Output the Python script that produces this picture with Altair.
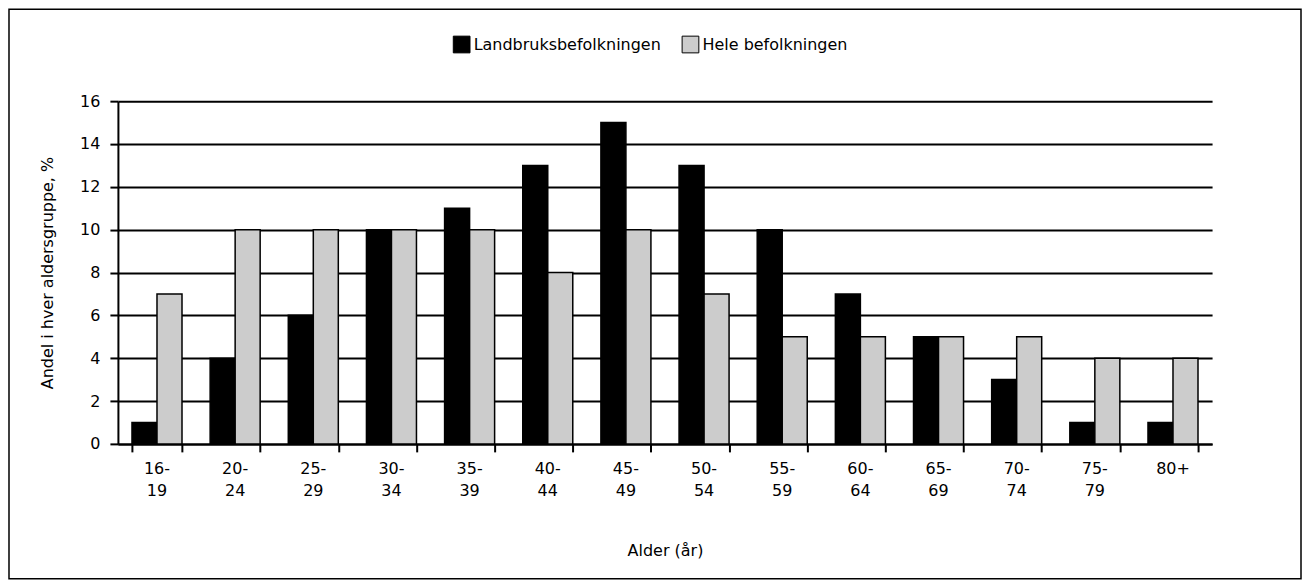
import altair as alt
import pandas as pd

ages = ["16-19", "20-24", "25-29", "30-34", "35-39", "40-44", "45-49",
        "50-54", "55-59", "60-64", "65-69", "70-74", "75-79", "80+"]
age_line1 = ["16-", "20-", "25-", "30-", "35-", "40-", "45-",
             "50-", "55-", "60-", "65-", "70-", "75-", "80+"]
age_line2 = ["19", "24", "29", "34", "39", "44", "49",
             "54", "59", "64", "69", "74", "79", ""]
landbruk = [1, 4, 6, 10, 11, 13, 15, 13, 10, 7, 5, 3, 1, 1]
hele = [7, 10, 10, 10, 10, 8, 10, 7, 5, 5, 5, 5, 4, 4]
series = ["Landbruksbefolkningen", "Hele befolkningen"]

rows = []
for a, l, h in zip(ages, landbruk, hele):
    rows.append({"age": a, "serie": series[0], "val": l})
    rows.append({"age": a, "serie": series[1], "val": h})
df = pd.DataFrame(rows)
lab = pd.DataFrame({"age": ages, "l1": age_line1, "l2": age_line2})

W, H = 1095, 343
FONT = "DejaVu Sans"
FS = 16

xenc = alt.X("age:N", sort=ages,
             scale=alt.Scale(paddingInner=0.36, paddingOuter=0.18),
             axis=alt.Axis(title="Alder (år)", labels=False,
                           tickBand="extent", tickSize=8, tickColor="black",
                           tickWidth=2, domainColor="black", domainWidth=2,
                           titlePadding=90, titleFontSize=FS, titleColor="black",
                           titleFontWeight="normal", grid=False))

bars = alt.Chart(df).mark_bar(stroke="black", strokeWidth=1.5).encode(
    x=xenc,
    xOffset=alt.XOffset("serie:N", sort=series),
    y=alt.Y("val:Q", scale=alt.Scale(domain=[0, 16]),
            axis=alt.Axis(title="Andel i hver aldersgruppe, %", values=list(range(0, 17, 2)),
                          grid=True, gridColor="black", gridWidth=2, gridOpacity=1,
                          tickSize=8, tickColor="black", tickWidth=2,
                          domainColor="black", domainWidth=2, labelFontSize=FS,
                          labelPadding=10, titleFontSize=FS, titlePadding=24,
                          labelColor="black", titleColor="black",
                          titleFontWeight="normal")),
    color=alt.Color("serie:N", sort=series,
                    scale=alt.Scale(domain=series, range=["#000000", "#cccccc"]),
                    legend=alt.Legend(title=None, orient="none", direction="horizontal",
                                      legendX=335, legendY=-66, symbolType="square",
                                      symbolSize=280, symbolStrokeColor="black",
                                      symbolStrokeWidth=1, labelFontSize=FS,
                                      labelColor="black", labelLimit=0,
                                      columnPadding=18, labelOffset=3)),
)

text1 = alt.Chart(lab).mark_text(fontSize=FS, baseline="middle", color="black").encode(
    x=alt.X("age:N", sort=ages), y=alt.value(H + 25), text="l1:N")
text2 = alt.Chart(lab).mark_text(fontSize=FS, baseline="middle", color="black").encode(
    x=alt.X("age:N", sort=ages), y=alt.value(H + 47), text="l2:N")

frame = alt.Chart(pd.DataFrame({"k": [0]})).mark_rect(
    fill=None, stroke="black", strokeWidth=1.5
).encode(
    x=alt.value(-109), x2=alt.value(W + 89),
    y=alt.value(-92), y2=alt.value(H + 135),
)

chart = alt.layer(bars, text1, text2, frame).properties(
    width=W, height=H, padding=0,
).configure(font=FONT).configure_view(stroke=None)

chart.save("out.html", embed_options={"renderer": "svg", "actions": False})
